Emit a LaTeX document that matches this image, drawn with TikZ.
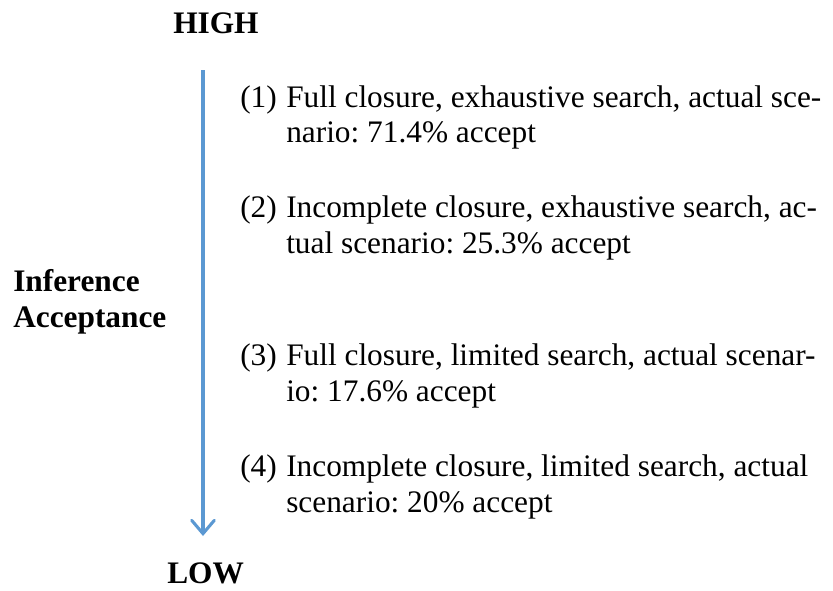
\documentclass[tikz,border=0pt]{standalone}
\usepackage{fontspec}
\setmainfont{Liberation Serif}
\usetikzlibrary{arrows.meta}
\frenchspacing
\definecolor{arrowblue}{RGB}{91,152,210}
\tikzset{
    txt/.style={anchor=base west,inner sep=0pt,font=\fontsize{23.5pt}{26pt}\selectfont},
    bigtxt/.style={txt,font=\fontsize{23.5pt}{26pt}\selectfont\bfseries},
    accarrow/.style={draw=arrowblue,line width=2.3pt,-{Straight Barb[length=10pt,width=17pt,line cap=round]}}
}
\begin{document}
\begin{tikzpicture}[x=0.75pt,y=-0.75pt]
        \useasboundingbox (0,0) rectangle (833,590);

        \node[bigtxt] (high) at (173,33) {HIGH};
        \node[bigtxt] (low)  at (167,583) {LOW};
        \node[bigtxt] (inf)  at (13,291) {Inference};
        \node[bigtxt] (acc)  at (13,327) {Acceptance};

        \coordinate (top)    at (203,70);
        \coordinate (bottom) at (203,536);
        \draw[accarrow] (top) -- (bottom);

        \node[txt] (n1)  at (240,107) {(1)};
        \node[txt] (t1a) at (286,107) {Full closure, exhaustive search, actual sce-};
        \node[txt] (t1b) at (286,142) {nario: 71.4\% accept};

        \node[txt] (n2)  at (240,217) {(2)};
        \node[txt] (t2a) at (286,217) {Incomplete closure, exhaustive search, ac-};
        \node[txt] (t2b) at (286,253) {tual scenario: 25.3\% accept};

        \node[txt] (n3)  at (240,365) {(3)};
        \node[txt] (t3a) at (286,365) {Full closure, limited search, actual scenar-};
        \node[txt] (t3b) at (286,401) {io: 17.6\% accept};

        \node[txt] (n4)  at (240,476) {(4)};
        \node[txt] (t4a) at (286,476) {Incomplete closure, limited search, actual};
        \node[txt] (t4b) at (286,512) {scenario: 20\% accept};
    \end{tikzpicture}
\end{document}
